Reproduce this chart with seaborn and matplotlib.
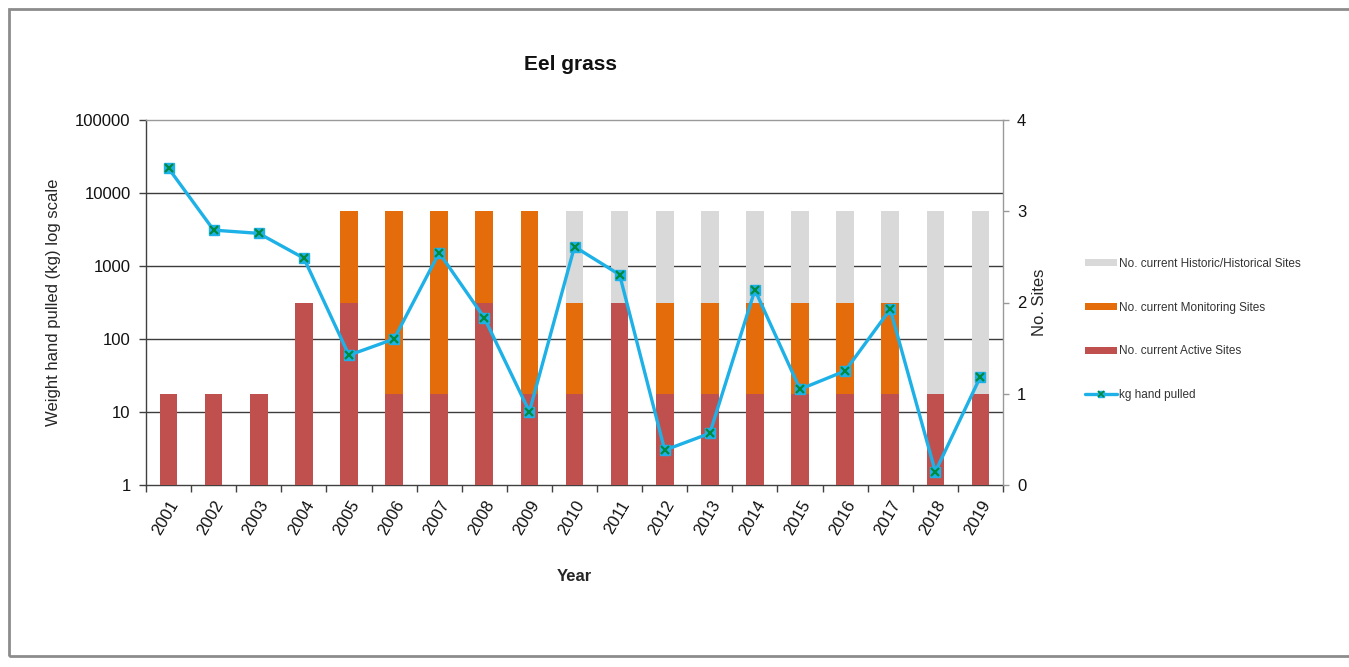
import numpy as np
import pandas as pd
import matplotlib
matplotlib.use("Agg")
import matplotlib.pyplot as plt
from matplotlib.patches import Patch, Rectangle
from matplotlib.lines import Line2D
from matplotlib.legend_handler import HandlerTuple
import seaborn as sns

# ---- data ----
years = [str(y) for y in range(2001, 2020)]
active_sites = [1, 1, 1, 2, 2, 1, 1, 2, 1, 1, 2, 1, 1, 1, 1, 1, 1, 1, 1]
monitoring_sites = [0, 0, 0, 0, 1, 2, 2, 1, 2, 1, 0, 1, 1, 1, 1, 1, 1, 0, 0]
historic_sites = [0, 0, 0, 0, 0, 0, 0, 0, 0, 1, 1, 1, 1, 1, 1, 1, 1, 2, 2]
kg_hand_pulled = [21800, 3100, 2800, 1280, 60, 100, 1520, 195, 10.1, 1840,
                  760, 3.0, 5.1, 470, 20.5, 36.5, 255, 1.52, 30.5]

lbl_historic = "No. current Historic/Historical Sites"
lbl_monitoring = "No. current Monitoring Sites"
lbl_active = "No. current Active Sites"
lbl_kg = "kg hand pulled"

c_active = "#C0504D"
c_monitoring = "#E46C0A"
c_historic = "#D9D9D9"
c_line = "#1EB1E7"
c_marker = "#008A3E"

sns.set_theme(style="white")
plt.rcParams["font.family"] = ["Liberation Sans", "DejaVu Sans"]

df = pd.DataFrame({
    "year": years,
    "active": active_sites,
    "monitoring": monitoring_sites,
    "historic": historic_sites,
    "kg": kg_hand_pulled,
})
df["lvl_am"] = df["active"] + df["monitoring"]
df["lvl_all"] = df["lvl_am"] + df["historic"]

fig = plt.figure(figsize=(13.49, 6.67), dpi=100)
fig.patch.set_facecolor("white")

W, H = 1349, 667
rect = [146 / W, 1 - 485 / H, (1003 - 146) / W, (485 - 120) / H]

# log axis: grid, left ticks and the category x axis
ax_log = fig.add_axes(rect)
ax_log.set_yscale("log")
ax_log.set_ylim(1, 100000)
ax_log.set_yticks([1, 10, 100, 1000, 10000, 100000])
ax_log.set_yticklabels(["1", "10", "100", "1000", "10000", "100000"])
ax_log.yaxis.set_minor_locator(matplotlib.ticker.NullLocator())
ax_log.grid(False)
for v in [10, 100, 1000, 10000]:
    ax_log.axhline(v, color="#3C3C3C", lw=1.0, zorder=0)
ax_log.tick_params(axis="y", labelsize=12, length=5, width=1, color="#404040",
                   direction="out", labelcolor="#111111", pad=6)
ax_log.set_ylabel("Weight hand pulled (kg) log scale", fontsize=12, labelpad=10)

# site-count axis: stacked bars and right ticks
ax_bar = ax_log.twinx()
sns.barplot(data=df, x="year", y="lvl_all", color=c_historic, width=0.39,
            saturation=1, ax=ax_bar, linewidth=0)
sns.barplot(data=df, x="year", y="lvl_am", color=c_monitoring, width=0.39,
            saturation=1, ax=ax_bar, linewidth=0)
sns.barplot(data=df, x="year", y="active", color=c_active, width=0.39,
            saturation=1, ax=ax_bar, linewidth=0)
ax_bar.set_ylim(0, 4)
ax_bar.set_yticks([0, 1, 2, 3, 4])
ax_bar.tick_params(axis="y", labelsize=12, length=4, width=1, color="#999999",
                   direction="out", labelcolor="#111111", pad=6)
ax_bar.set_ylabel("No. Sites", fontsize=12, labelpad=4)

# kg line on its own log axis over the bars
ax_line = ax_log.twinx()
ax_line.set_yscale("log")
ax_line.set_ylim(1, 100000)
xpos = np.arange(len(years))
sns.lineplot(x=xpos, y=df["kg"], ax=ax_line, color=c_line, lw=2.4, zorder=3)
ax_line.plot(xpos, df["kg"], ls="none", marker="s", ms=7, mfc=c_line,
             mec=c_line, zorder=4)
ax_line.plot(xpos, df["kg"], ls="none", marker="x", ms=5.5, mew=1.6,
             color=c_marker, zorder=5)
ax_line.set_yticks([])
ax_line.yaxis.set_minor_locator(matplotlib.ticker.NullLocator())
ax_line.set_ylabel("")
ax_line.set_xlabel("")
for a in (ax_log, ax_bar, ax_line):
    a.set_xlim(-0.5, len(years) - 0.5)

# x ticks: labels at categories, tick marks at category boundaries
ax_log.set_xticks(xpos)
ax_log.set_xticklabels(years, rotation=60, ha="right", rotation_mode="anchor",
                       fontsize=12, color="#111111")
ax_log.set_xticks(np.arange(-0.5, len(years)), minor=True)
ax_log.tick_params(axis="x", which="major", length=0, pad=9)
ax_log.tick_params(axis="x", which="minor", length=5, width=1,
                   color="#404040", direction="out", bottom=True)
ax_log.set_xlabel("Year", fontsize=12, fontweight="bold", labelpad=23)

for a in (ax_log, ax_bar, ax_line):
    for s in a.spines.values():
        s.set_visible(False)
ax_log.spines["left"].set_visible(True)
ax_log.spines["left"].set_color("#404040")
ax_log.spines["bottom"].set_visible(True)
ax_log.spines["bottom"].set_color("#404040")
ax_bar.spines["right"].set_visible(True)
ax_bar.spines["right"].set_color("#9A9A9A")
ax_bar.spines["top"].set_visible(True)
ax_bar.spines["top"].set_color("#9A9A9A")
for a in (ax_log, ax_bar):
    for s in a.spines.values():
        s.set_linewidth(1.0)

fig.text(571 / W, 1 - 64 / H, "Eel grass", fontsize=15, fontweight="bold",
         ha="center", va="center", color="#111111")

handles = [
    Patch(facecolor=c_historic, edgecolor="none"),
    Patch(facecolor=c_monitoring, edgecolor="none"),
    Patch(facecolor=c_active, edgecolor="none"),
    (Line2D([], [], color=c_line, lw=2.4),
     Line2D([], [], ls="none", marker="s", ms=5, mfc=c_line, mec=c_line),
     Line2D([], [], ls="none", marker="x", ms=4, mew=1.2, color=c_marker)),
]
labels = [lbl_historic, lbl_monitoring, lbl_active, lbl_kg]
fig.legend(handles, labels, loc="upper left",
           bbox_to_anchor=(1074 / W, 1 - 247 / H), frameon=False,
           fontsize=8.5, labelspacing=2.7, handlelength=2.7,
           handleheight=0.5, handletextpad=0.2, labelcolor="#333333",
           handler_map={tuple: HandlerTuple(ndivide=1, pad=0)})

# outer chart border (right edge runs off the canvas)
fig.add_artist(Rectangle((9 / W, 1 - 656 / H), (1360 - 9) / W, (656 - 9) / H,
                         transform=fig.transFigure, fill=False,
                         edgecolor="#8C8C8C", lw=2))

fig.savefig("out.png", dpi=100)
